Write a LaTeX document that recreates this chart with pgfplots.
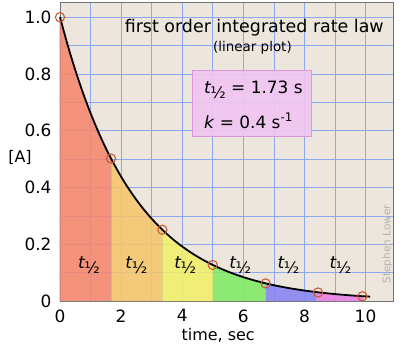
\documentclass[border=0pt]{standalone}
\usepackage{pgfplots}
\pgfplotsset{compat=1.18}
\usepackage{fontspec}
\setmainfont{DejaVu Sans}
\definecolor{bgc}{HTML}{ECE6DC}
\definecolor{gridc}{HTML}{8EA6F2}
\definecolor{cred}{HTML}{F7846C}
\definecolor{corange}{HTML}{F7C46A}
\definecolor{cyellow}{HTML}{F3F066}
\definecolor{cgreen}{HTML}{7CEB62}
\definecolor{cblue}{HTML}{8480F4}
\definecolor{cmag}{HTML}{E87CE6}
\definecolor{circc}{HTML}{CC5A30}
\definecolor{boxfill}{HTML}{F0C4F2}
\definecolor{boxdraw}{HTML}{D898DA}
\newcommand\thalf{\textit{t}\kern-0.05em\raisebox{-0.55ex}{\fontsize{16}{16}\selectfont ½}}
\begin{document}
\begin{tikzpicture}
\begin{axis}[
  scale only axis, width=333bp, height=298bp,
  xmin=0, xmax=10.9, ymin=0, ymax=1.05,
  axis background/.style={fill=bgc},
  xtick={0,2,4,6,8,10}, xticklabels={0,2,4,6,8,10},
  minor xtick={1,3,5,7,9},
  ytick={0,0.2,0.4,0.6,0.8,1.0}, yticklabels={0,0.2,0.4,0.6,0.8,1.0},
  minor ytick={0.1,0.3,0.5,0.7,0.9},
  grid=both,
  major grid style={draw=gridc, line width=0.6pt},
  minor grid style={draw=gridc, line width=0.6pt},
  major tick length=0pt, minor tick length=0pt,
  axis line style={draw=black!55, line width=1pt},
  /pgf/number format/assume math mode=true,
  tick label style={font=\fontsize{17}{17}\selectfont},
  yticklabel style={xshift=-5pt},
  xticklabel style={yshift=-5pt},
  xlabel={time, sec},
  xlabel style={font=\fontsize{16}{16}\selectfont, at={(axis description cs:0.475,-0.117)}, anchor=center},
  ylabel={[A]},
  ylabel style={font=\fontsize{16}{16}\selectfont, rotate=-90, at={(axis description cs:-0.12,0.48)}, anchor=center},
  clip=false,
]
\addplot[fill=cred, fill opacity=0.85, draw=black!35, line width=0.5pt] coordinates {(0,0)(0,1)(0.25,0.902)(0.5,0.8136)(0.75,0.7339)(1,0.6619)(1.25,0.5971)(1.5,0.5386)(1.67,0.502)(1.67,0)} -- cycle;
\addplot[fill=corange, fill opacity=0.85, draw=black!35, line width=0.5pt] coordinates {(1.67,0)(1.67,0.502)(1.75,0.4858)(2,0.4382)(2.25,0.3952)(2.5,0.3565)(2.75,0.3215)(3,0.29)(3.25,0.2616)(3.35,0.2511)(3.35,0)} -- cycle;
\addplot[fill=cyellow, fill opacity=0.85, draw=none] coordinates {(3.35,0)(3.35,0.2511)(3.5,0.236)(3.75,0.2128)(4,0.192)(4.25,0.1732)(4.5,0.1562)(4.75,0.1409)(5,0.1271)(5,0)} -- cycle;
\addplot[fill=cgreen, fill opacity=0.85, draw=none] coordinates {(5,0)(5,0.1271)(5.25,0.1146)(5.5,0.1034)(5.75,0.0933)(6,0.0841)(6.25,0.0759)(6.5,0.0684)(6.73,0.0622)(6.73,0)} -- cycle;
\addplot[fill=cblue, fill opacity=0.85, draw=none] coordinates {(6.73,0)(6.73,0.0622)(7,0.0557)(7.25,0.0502)(7.5,0.0453)(7.75,0.0409)(8,0.0369)(8.25,0.0333)(8.4,0.0313)(8.4,0)} -- cycle;
\addplot[fill=cmag, fill opacity=0.85, draw=none] coordinates {(8.4,0)(8.4,0.0313)(8.5,0.03)(8.75,0.0271)(9,0.0244)(9.25,0.022)(9.5,0.0199)(9.75,0.0179)(9.95,0.0165)(9.95,0)} -- cycle;
% decay curve
\addplot[black, line width=1.8pt, smooth] coordinates {(0,1)(0.25,0.902)(0.5,0.8136)(0.75,0.7339)(1,0.6619)(1.25,0.5971)(1.5,0.5386)(1.75,0.4858)(2,0.4382)(2.25,0.3952)(2.5,0.3565)(2.75,0.3215)(3,0.29)(3.25,0.2616)(3.5,0.236)(3.75,0.2128)(4,0.192)(4.25,0.1732)(4.5,0.1562)(4.75,0.1409)(5,0.1271)(5.25,0.1146)(5.5,0.1034)(5.75,0.0933)(6,0.0841)(6.25,0.0759)(6.5,0.0684)(6.75,0.0617)(7,0.0557)(7.25,0.0502)(7.5,0.0453)(7.75,0.0409)(8,0.0369)(8.25,0.0333)(8.5,0.03)(8.75,0.0271)(9,0.0244)(9.25,0.022)(9.5,0.0199)(9.75,0.0179)(10,0.0162)(10.15,0.0153)};
% half-life markers
\addplot[only marks, mark=o, mark size=4.6pt, draw=circc, line width=1.1pt] coordinates {(0,1)(1.67,0.502)(3.35,0.251)(5.0,0.127)(6.73,0.062)(8.45,0.03)(9.9,0.0167)};
% labels
\node[font=\fontsize{17.5}{17.5}\selectfont] at (axis cs:6.36,0.963) {first order integrated rate law};
\node[font=\fontsize{13.5}{13.5}\selectfont] at (axis cs:6.3,0.893) {(linear plot)};
\draw[fill=boxfill, fill opacity=0.9, draw=boxdraw, line width=0.8pt] (axis cs:4.33,0.58) rectangle (axis cs:8.23,0.812);
\node[anchor=west, font=\fontsize{17}{17}\selectfont] at (axis cs:4.6,0.745) {\thalf\ = 1.73 s};
\node[anchor=west, font=\fontsize{17}{17}\selectfont] at (axis cs:4.6,0.635) {\textit{k} = 0.4 s\textsuperscript{-1}};
\node[font=\fontsize{17}{17}\selectfont] at (axis cs:0.95,0.127) {\thalf};
\node[font=\fontsize{17}{17}\selectfont] at (axis cs:2.5,0.127) {\thalf};
\node[font=\fontsize{17}{17}\selectfont] at (axis cs:4.1,0.127) {\thalf};
\node[font=\fontsize{17}{17}\selectfont] at (axis cs:5.9,0.127) {\thalf};
\node[font=\fontsize{17}{17}\selectfont] at (axis cs:7.48,0.127) {\thalf};
\node[font=\fontsize{17}{17}\selectfont] at (axis cs:9.18,0.127) {\thalf};
\node[rotate=90, text=black!30, font=\fontsize{10.5}{10.5}\selectfont] at (axis cs:10.72,0.2) {Stephen Lower};
\end{axis}
\pgfresetboundingbox
\path ([shift={(-60bp,-47bp)}]current axis.south west) rectangle ([shift={(10bp,3bp)}]current axis.north east);
\end{tikzpicture}
\end{document}
